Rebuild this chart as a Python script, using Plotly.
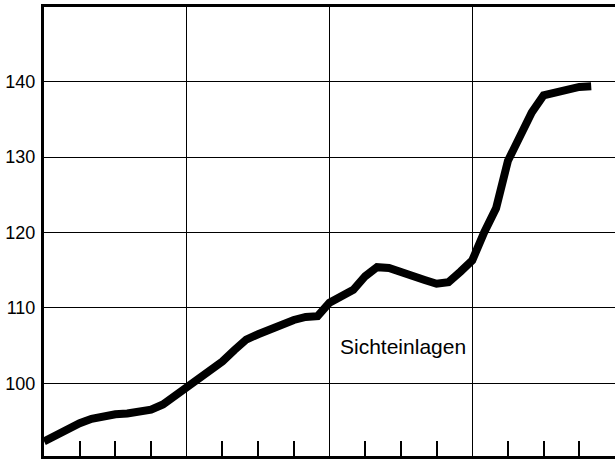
import plotly.graph_objects as go

# monthly values (index 0 = first month)
months = list(range(47))
sichteinlagen = [
    92.3, 93.2, 94.0, 94.7, 95.3, 95.7, 95.9, 96.0, 96.2, 96.5, 97.2, 98.3,
    99.5, 100.6, 101.5, 102.9, 104.4, 105.8, 106.5, 107.2, 107.9, 108.4, 108.8, 108.9,
    110.7, 111.6, 112.4, 114.2, 115.4, 115.3, 114.7, 114.2, 113.7, 113.2, 113.4, 114.8,
    116.3, 120.0, 123.2, 129.5, 133.0, 135.9, 138.2, 138.6, 139.0, 139.3, 139.4,
]
y_ticks = [100, 110, 120, 130, 140]
y_labels = ["100", "110", "120", "130", "140"]
series_label = "Sichteinlagen"

fig = go.Figure()
fig.add_trace(go.Scatter(
    x=months, y=sichteinlagen, mode="lines",
    line=dict(color="black", width=8),
    hoverinfo="skip", showlegend=False,
))

fig.add_annotation(
    x=30.2, y=104.9, text=series_label, showarrow=False,
    font=dict(family="Liberation Sans, Arial, sans-serif", size=21, color="black"),
    xanchor="center", yanchor="middle",
)

fig.update_layout(
    width=615, height=460,
    margin=dict(l=44, r=0, t=7, b=4),
    paper_bgcolor="white", plot_bgcolor="white",
    font=dict(family="Liberation Sans, Arial, sans-serif", color="black"),
)
fig.update_xaxes(
    range=[0, 48], tick0=0, dtick=12,
    showgrid=True, gridcolor="black", gridwidth=1.3,
    showticklabels=False, ticks="",
    showline=True, linecolor="black", linewidth=3, mirror=True,
    zeroline=False,
    minor=dict(ticks="inside", dtick=3, tick0=0, ticklen=15,
               tickwidth=1.5, tickcolor="black", showgrid=False),
)
fig.update_yaxes(
    range=[90.36, 149.9], tickmode="array", tickvals=y_ticks, ticktext=y_labels,
    showgrid=True, gridcolor="black", gridwidth=1.3,
    ticks="", ticklabelstandoff=2,
    tickfont=dict(size=18, color="black"),
    showline=True, linecolor="black", linewidth=3, mirror=False,
    zeroline=False,
)

fig.write_html("out.html", config={"displayModeBar": False},
               post_script="document.body.style.margin='0';")
